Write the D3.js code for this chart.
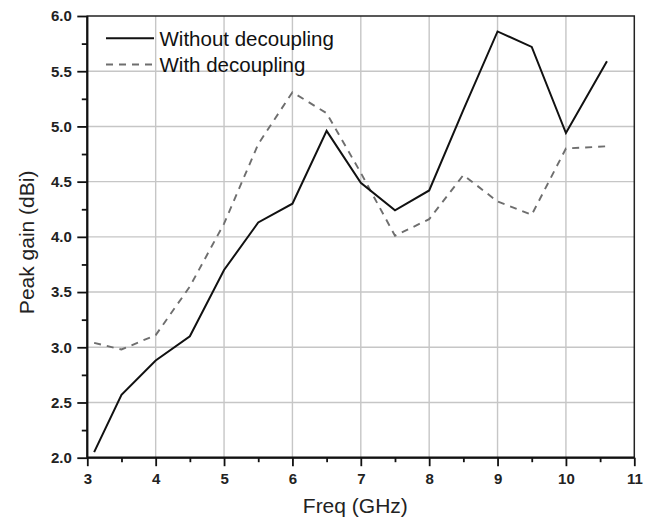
<!DOCTYPE html>
<html>
  <head>
    <meta charset="utf-8">
    <title>Peak gain vs frequency</title>
    <script src="https://d3js.org/d3.v7.min.js"></script>
    <style>
      body { margin: 0; background: #fff; overflow: hidden; }
      svg { display: block; font-family: Arial, "Liberation Sans", sans-serif; }
      .tick text { font-family: Arial, "Liberation Sans", sans-serif; font-size: 15px; font-weight: bold; fill: #222; }
      .axis-label { font-size: 21px; fill: #222; }
      .legend text { font-size: 20.5px; fill: #111; }
    </style>
  </head>
  <body>
    <svg></svg>
    <script>
      // data
      const freq = [3.1, 3.5, 4, 4.5, 5, 5.5, 6, 6.5, 7, 7.5, 8, 8.5, 9, 9.5, 10, 10.6];
      const withoutDecoupling = [2.05, 2.57, 2.88, 3.10, 3.70, 4.13, 4.30, 4.96, 4.49, 4.24, 4.42, 5.15, 5.86, 5.72, 4.94, 5.59];
      const withDecoupling = [3.04, 2.98, 3.11, 3.55, 4.12, 4.84, 5.31, 5.12, 4.58, 4.01, 4.16, 4.56, 4.32, 4.20, 4.80, 4.82];
      const seriesNames = ['Without decoupling', 'With decoupling'];
      const xTicks = [3, 4, 5, 6, 7, 8, 9, 10, 11];
      const yTicks = [2.0, 2.5, 3.0, 3.5, 4.0, 4.5, 5.0, 5.5, 6.0];

      const svg = d3.select('svg')
        .attr('width', 658)
        .attr('height', 519);

      const width = +svg.attr('width');
      const height = +svg.attr('height');

      const margin = { top: 16, right: 23.7, bottom: 61.3, left: 87.3 };
      const innerWidth = width - margin.left - margin.right;
      const innerHeight = height - margin.top - margin.bottom;

      const xScale = d3.scaleLinear().domain([3, 11]).range([0, innerWidth]);
      const yScale = d3.scaleLinear().domain([2, 6]).range([innerHeight, 0]);

      const g = svg.append('g')
        .attr('transform', `translate(${margin.left},${margin.top})`);

      // grid
      const grid = g.append('g').attr('stroke', '#c6c6c6').attr('stroke-width', 1.4);
      grid.selectAll('.vgrid').data(xTicks.slice(1, -1))
        .enter().append('line')
          .attr('x1', d => xScale(d)).attr('x2', d => xScale(d))
          .attr('y1', 0).attr('y2', innerHeight);
      grid.selectAll('.hgrid').data(yTicks.slice(1, -1))
        .enter().append('line')
          .attr('x1', 0).attr('x2', innerWidth)
          .attr('y1', d => yScale(d)).attr('y2', d => yScale(d));

      // minor ticks
      const xMinor = d3.range(3.5, 11, 1);
      const yMinor = d3.range(2.25, 6, 0.5);

      const xMinorG = g.append('g')
        .attr('transform', `translate(0,${innerHeight})`)
        .call(d3.axisBottom(xScale).tickValues(xMinor).tickSize(4.5).tickFormat(''));
      const yMinorG = g.append('g')
        .call(d3.axisLeft(yScale).tickValues(yMinor).tickSize(5.5).tickFormat(''));
      xMinorG.selectAll('.tick text').remove();
      yMinorG.selectAll('.tick text').remove();

      // main axes
      const xAxisG = g.append('g')
        .attr('transform', `translate(0,${innerHeight})`)
        .call(d3.axisBottom(xScale).tickValues(xTicks).tickSize(8.5).tickPadding(7).tickFormat(d3.format('d')));
      const yAxisG = g.append('g')
        .call(d3.axisLeft(yScale).tickValues(yTicks).tickSize(10).tickPadding(5.5).tickFormat(d3.format('.1f')));

      [xMinorG, yMinorG, xAxisG, yAxisG].forEach(a => {
        a.attr('font-family', null).attr('font-size', null);
        a.select('.domain').remove();
        a.selectAll('.tick line').attr('stroke', '#111').attr('stroke-width', 1.8);
      });

      // frame
      g.append('rect')
        .attr('x', 0).attr('y', 0)
        .attr('width', innerWidth).attr('height', innerHeight)
        .attr('fill', 'none')
        .attr('stroke', '#222')
        .attr('stroke-width', 1.5);
      g.append('line')
        .attr('x1', 0).attr('x2', 0).attr('y1', 0).attr('y2', innerHeight)
        .attr('stroke', '#111').attr('stroke-width', 2.2);
      g.append('line')
        .attr('x1', 0).attr('x2', innerWidth).attr('y1', innerHeight).attr('y2', innerHeight)
        .attr('stroke', '#111').attr('stroke-width', 2.2);

      // lines
      const line = d3.line()
        .x((d, i) => xScale(freq[i]))
        .y(d => yScale(d));

      g.append('path')
        .datum(withDecoupling)
        .attr('fill', 'none')
        .attr('stroke', '#6e6e6e')
        .attr('stroke-width', 1.9)
        .attr('stroke-dasharray', '7,6')
        .attr('d', line);

      g.append('path')
        .datum(withoutDecoupling)
        .attr('fill', 'none')
        .attr('stroke', '#111')
        .attr('stroke-width', 2)
        .attr('d', line);

      // axis labels (the reference has them slightly off-centre)
      g.append('text')
        .attr('class', 'axis-label')
        .attr('x', innerWidth / 2 - 5.5)
        .attr('y', innerHeight + 55)
        .attr('text-anchor', 'middle')
        .text('Freq (GHz)');

      g.append('text')
        .attr('class', 'axis-label')
        .attr('transform', 'rotate(-90)')
        .attr('x', -(innerHeight / 2 + 5.5))
        .attr('y', 33.5 - margin.left)
        .attr('text-anchor', 'middle')
        .text('Peak gain (dBi)');

      // legend
      const legend = svg.append('g').attr('class', 'legend');
      const legendRows = [
        { name: seriesNames[0], stroke: '#111', dash: null, y: 38.3 },
        { name: seriesNames[1], stroke: '#6e6e6e', dash: '7,6', y: 64.5 }
      ];
      legendRows.forEach(r => {
        legend.append('line')
          .attr('x1', 106).attr('x2', 154)
          .attr('y1', r.y).attr('y2', r.y)
          .attr('stroke', r.stroke)
          .attr('stroke-width', 2)
          .attr('stroke-dasharray', r.dash);
        legend.append('text')
          .attr('x', 159.5)
          .attr('y', r.y + 7.5)
          .text(r.name);
      });
    </script>
  </body>
</html>
